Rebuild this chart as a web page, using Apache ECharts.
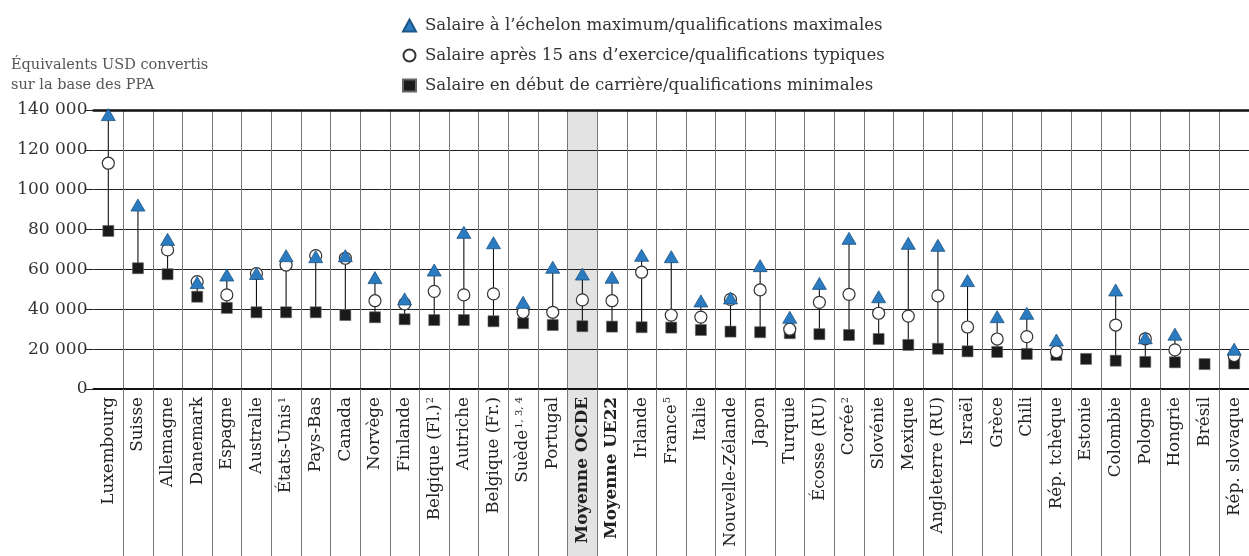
<!DOCTYPE html>
<html lang="fr">
<head>
<meta charset="UTF-8">
<title>Salaires statutaires</title>
<script src="https://cdn.jsdelivr.net/npm/echarts@6/dist/echarts.min.js"></script>
<style>
  html, body { margin: 0; padding: 0; background: #fff; }
  #main { width: 1249px; height: 556px; }
</style>
</head>
<body>
<div id="main"></div>
<script>
  // catégories (ordre du graphique), notes en exposant
  const categories = ['Luxembourg', 'Suisse', 'Allemagne', 'Danemark', 'Espagne', 'Australie', 'États-Unis¹',
    'Pays-Bas', 'Canada', 'Norvège', 'Finlande', 'Belgique (Fl.)²', 'Autriche', 'Belgique (Fr.)', 'Suède¹, ³, ⁴',
    'Portugal', 'Moyenne OCDE', 'Moyenne UE22', 'Irlande', 'France⁵', 'Italie', 'Nouvelle-Zélande', 'Japon',
    'Turquie', 'Écosse (RU)', 'Corée²', 'Slovénie', 'Mexique', 'Angleterre (RU)', 'Israël', 'Grèce', 'Chili',
    'Rép. tchèque', 'Estonie', 'Colombie', 'Pologne', 'Hongrie', 'Brésil', 'Rép. slovaque'];

  const boldCats = ['Moyenne OCDE', 'Moyenne UE22'];
  const shadedCat = 'Moyenne OCDE';

  // échelon maximum / qualifications maximales
  const maxSal = [137700, 92300, 75100, 53400, 57200, 58000, 66900, 66400, 66900, 55900, 45200, 59700, 78600,
    73400, 43500, 61100, 57700, 56100, 67100, 66400, 44200, 45700, 61900, 36000, 53000, 75600, 46300, 73100,
    72100, 54400, 36300, 38000, 24600, null, 49700, 25700, 27500, null, 20000];

  // après 15 ans d'exercice / qualifications typiques
  const typSal = [113300, null, 69800, 53900, 47200, 57900, 62200, 66900, 65600, 44300, 42700, 49000, 47200,
    47700, 38500, 38500, 44700, 44300, 58600, 37100, 36100, 45000, 49700, 30000, 43500, 47500, 38000, 36600,
    46700, 31100, 25100, 26300, 18700, null, 32100, 25200, 19600, null, 16800];

  // début de carrière / qualifications minimales
  const minSal = [79300, 60600, 57600, 46300, 40700, 38500, 38500, 38500, 37100, 36000, 35000, 34600, 34600,
    34000, 33000, 32100, 31500, 31300, 31000, 30800, 29600, 28800, 28500, 28000, 27500, 27100, 25100, 22100,
    20200, 18900, 18600, 17600, 17100, 15100, 14200, 13600, 13400, 12500, 12800];

  const legendNames = [
    'Salaire à l’échelon maximum/qualifications maximales',
    'Salaire après 15 ans d’exercice/qualifications typiques',
    'Salaire en début de carrière/qualifications minimales'
  ];

  const FONT = 'DejaVu Serif';
  const LABEL_SIZE = 16.8;
  const gridLeft = 93.5;
  const gridWidth = 1163.7;

  const supMap = { '¹': '1', '²': '2', '³': '3', '⁴': '4', '⁵': '5' };

  function catLabel(v) {
    if (boldCats.includes(v)) return '{b|' + v + '}';
    const m = v.match(/^(.*?)([¹²³⁴⁵][¹²³⁴⁵, ]*)$/);
    if (m) {
      const notes = m[2].replace(/[¹²³⁴⁵]/g, (c) => supMap[c]);
      return '{n|' + m[1] + '}{sup|' + notes + '}';
    }
    return '{n|' + v + '}';
  }

  const rangeData = categories.map((c, i) => {
    const top = maxSal[i] != null ? maxSal[i] : typSal[i];
    return [i, minSal[i], top];
  });

  const chart = echarts.init(document.getElementById('main'));

  const option = {
    animation: false,
    backgroundColor: '#fff',
    title: {
      text: 'Équivalents USD convertis\nsur la base des PPA',
      left: 6,
      top: 50,
      textStyle: { fontFamily: FONT, fontSize: 14.5, fontWeight: 'normal', color: '#555', lineHeight: 20 }
    },
    legend: {
      data: legendNames,
      orient: 'vertical',
      left: 397,
      top: 12,
      itemWidth: 13,
      itemHeight: 12,
      itemGap: 13,
      selectedMode: false,
      textStyle: { fontFamily: FONT, fontSize: 16.6, color: '#333', padding: [0, 0, 0, 4] }
    },
    grid: [
      { left: gridLeft, top: 110, height: 279, width: gridWidth },
      { left: gridLeft, top: 110, bottom: 0, width: gridWidth }
    ],
    xAxis: [
      {
        type: 'category',
        gridIndex: 0,
        data: categories,
        boundaryGap: true,
        axisLine: { lineStyle: { color: '#111', width: 2 } },
        axisTick: {
          show: true,
          length: 170,
          interval: (i) => i > 0,
          lineStyle: { color: '#777', width: 1 }
        },
        splitLine: {
          show: true,
          interval: (i) => i > 0,
          lineStyle: { color: '#777', width: 1 }
        },
        axisLabel: {
          interval: 0,
          rotate: 90,
          margin: 8,
          color: '#222',
          formatter: catLabel,
          rich: {
            n: { fontFamily: FONT, fontSize: LABEL_SIZE, color: '#222' },
            b: { fontFamily: FONT, fontSize: LABEL_SIZE, fontWeight: 'bold', color: '#222' },
            sup: { fontFamily: FONT, fontSize: 10, color: '#222', verticalAlign: 'top', padding: [0, 0, 0, 1] }
          }
        }
      },
      {
        type: 'category',
        gridIndex: 0,
        position: 'top',
        data: categories,
        axisLine: { lineStyle: { color: '#111', width: 2.5 } },
        axisTick: { show: false },
        axisLabel: { show: false },
        splitLine: { show: false }
      },
      {
        type: 'category',
        gridIndex: 1,
        data: categories,
        show: false
      }
    ],
    yAxis: [
      {
        type: 'value',
        gridIndex: 0,
        min: 0,
        max: 140000,
        interval: 20000,
        axisLine: { show: false },
        axisTick: { show: true, length: 8, lineStyle: { color: '#222', width: 1 } },
        splitLine: { lineStyle: { color: '#222', width: 1 } },
        axisLabel: {
          margin: 6,
          fontFamily: FONT,
          fontSize: 17,
          color: '#333',
          formatter: (v) => v === 0 ? '0' : (v / 1000) + ' 000'
        }
      },
      {
        type: 'value',
        gridIndex: 1,
        min: 0,
        max: 1,
        show: false
      }
    ],
    series: [
      {
        name: 'shade',
        type: 'bar',
        xAxisIndex: 2,
        yAxisIndex: 1,
        barWidth: '100%',
        silent: true,
        z: -1,
        itemStyle: { color: '#e3e3e3' },
        data: categories.map((c) => c === shadedCat ? 1 : null)
      },
      {
        name: 'range',
        type: 'custom',
        xAxisIndex: 0,
        yAxisIndex: 0,
        silent: true,
        z: 3,
        encode: { x: 0, y: [1, 2] },
        data: rangeData,
        renderItem: function (params, api) {
          const lo = api.value(1);
          const hi = api.value(2);
          if (hi == null || isNaN(hi)) return null;
          const p1 = api.coord([api.value(0), lo]);
          const p2 = api.coord([api.value(0), hi]);
          return {
            type: 'line',
            shape: { x1: p1[0], y1: p1[1], x2: p2[0], y2: p2[1] },
            style: { stroke: '#111', lineWidth: 1.1 }
          };
        }
      },
      {
        name: legendNames[2],
        type: 'scatter',
        xAxisIndex: 0,
        yAxisIndex: 0,
        symbol: 'rect',
        symbolSize: 11,
        z: 4,
        itemStyle: { color: '#1a1a1a', borderColor: '#666', borderWidth: 0.6, opacity: 1 },
        data: minSal
      },
      {
        name: legendNames[1],
        type: 'scatter',
        xAxisIndex: 0,
        yAxisIndex: 0,
        symbol: 'circle',
        symbolSize: 12,
        z: 5,
        itemStyle: { color: '#fff', borderColor: '#333', borderWidth: 1.2, opacity: 1 },
        data: typSal
      },
      {
        name: legendNames[0],
        type: 'scatter',
        xAxisIndex: 0,
        yAxisIndex: 0,
        symbol: 'triangle',
        symbolSize: [14, 12],
        z: 6,
        itemStyle: { color: '#2b7bc0', borderColor: '#1d5585', borderWidth: 0.8, opacity: 1 },
        data: maxSal
      }
    ]
  };

  chart.setOption(option);
</script>
</body>
</html>
